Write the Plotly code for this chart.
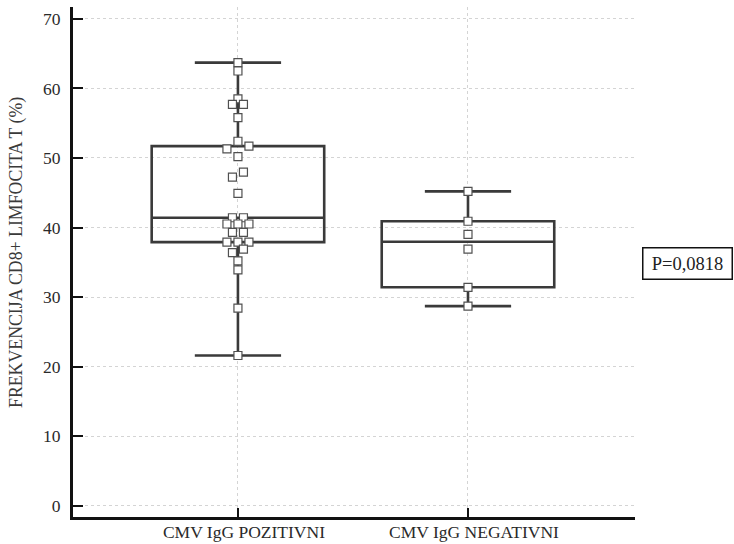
import plotly.graph_objects as go

# ---------------- data ----------------
categories = ["CMV IgG POZITIVNI", "CMV IgG NEGATIVNI"]
pozitivni = [63.7, 62.5, 58.5, 57.7, 57.7, 55.8, 52.4, 51.7, 51.3, 50.2, 47.95, 47.25,
             44.9, 41.4, 41.4, 40.5, 40.5, 40.5, 39.3, 39.3, 37.9, 37.9, 37.9, 36.9,
             36.4, 35.2, 33.9, 28.4, 21.6]
negativni = [45.2, 40.9, 39.0, 36.9, 31.4, 28.7]
y_tick_values = [0, 10, 20, 30, 40, 50, 60, 70]
y_title = "FREKVENCIJA CD8+ LIMFOCITA T (%)"
p_text = "P=0,0818"

# ---------------- layout geometry ----------------
W, H = 734, 544
M_L, M_R, M_T, M_B = 73, 99, 7, 27
plot_w = W - M_L - M_R
plot_h = H - M_T - M_B
x_range = [-0.717, 1.726]
y_range = [-1.62, 71.7]
px_per_x = plot_w / (x_range[1] - x_range[0])

FONT = "Liberation Serif, Times New Roman, serif"
BOX_COLOR = "#3a3a3a"


def swarm_offsets(values, thr=0.75, step_px=11.0):
    """Simple row-based beeswarm: near-equal values share a centred row."""
    order = sorted(range(len(values)), key=lambda i: -values[i])
    rows = []
    for i in order:
        if rows and values[rows[-1][-1]] - values[i] < thr:
            rows[-1].append(i)
        else:
            rows.append([i])
    offs = [0.0] * len(values)
    for row in rows:
        n = len(row)
        if n % 2:
            slots = [0] + [s for k in range(1, n // 2 + 1) for s in (k, -k)]
        else:
            slots = [s for k in range(n // 2) for s in (k + 0.5, -(k + 0.5))]
        for i, s in zip(row, slots):
            offs[i] = s * step_px / px_per_x
    return offs


fig = go.Figure()

for idx, vals in enumerate([pozitivni, negativni]):
    fig.add_trace(go.Box(
        y=vals,
        x=[idx] * len(vals),
        boxpoints=False,
        quartilemethod="inclusive",
        width=0.75,
        whiskerwidth=0.5,
        fillcolor="rgba(0,0,0,0)",
        line=dict(color=BOX_COLOR, width=2.6),
        showlegend=False,
        hoverinfo="skip",
    ))

for idx, vals in enumerate([pozitivni, negativni]):
    offs = swarm_offsets(vals)
    fig.add_trace(go.Scatter(
        x=[idx + o for o in offs],
        y=vals,
        mode="markers",
        marker=dict(symbol="square", size=8, color="white",
                    line=dict(color="#505050", width=1.2)),
        showlegend=False,
        hoverinfo="skip",
    ))

fig.add_annotation(
    text=y_title, xref="paper", yref="paper",
    x=(17 - M_L) / plot_w, y=(H - M_B - 253) / plot_h,
    textangle=-90, showarrow=False, xanchor="center", yanchor="middle",
    font=dict(family=FONT, size=17.8, color="#3a3a3a"),
)

fig.add_annotation(
    text=p_text, xref="paper", yref="paper",
    x=(687 - M_L) / plot_w, y=(H - M_B - 263) / plot_h,
    showarrow=False, xanchor="center", yanchor="middle",
    width=84, height=26, borderpad=2,
    bordercolor="#111111", borderwidth=1.5, bgcolor="white",
    font=dict(family=FONT, size=18.5, color="#222222"),
)

fig.update_layout(
    width=W, height=H,
    margin=dict(l=M_L, r=M_R, t=M_T, b=M_B, autoexpand=False),
    paper_bgcolor="white", plot_bgcolor="white",
    font=dict(family=FONT, size=17, color="#222222"),
    xaxis=dict(
        range=x_range, tickmode="array", tickvals=[0, 1], ticktext=categories,
        showgrid=True, gridcolor="#d4d4d4", griddash="dot", gridwidth=1,
        zeroline=False, showline=True, linecolor="#111111", linewidth=3,
        ticks="inside", ticklen=9, tickwidth=1.6, tickcolor="#111111",
        ticklabelshift=6, ticklabelstandoff=-3,
        tickfont=dict(family=FONT, size=17.5, color="#2a2a2a"),
        automargin=False, fixedrange=True,
    ),
    yaxis=dict(
        range=y_range, tickmode="array", tickvals=y_tick_values,
        showgrid=True, gridcolor="#d4d4d4", griddash="dot", gridwidth=1,
        zeroline=False, showline=True, linecolor="#111111", linewidth=3,
        ticks="inside", ticklen=10, tickwidth=2, tickcolor="#111111",
        ticklabelstandoff=6,
        tickfont=dict(family=FONT, size=17.5, color="#2a2a2a"),
        automargin=False, fixedrange=True,
    ),
)

fig.write_html(
    "out.html",
    config={"displayModeBar": False, "staticPlot": True},
    post_script="document.body.style.margin='0';document.body.style.overflow='hidden';",
)
